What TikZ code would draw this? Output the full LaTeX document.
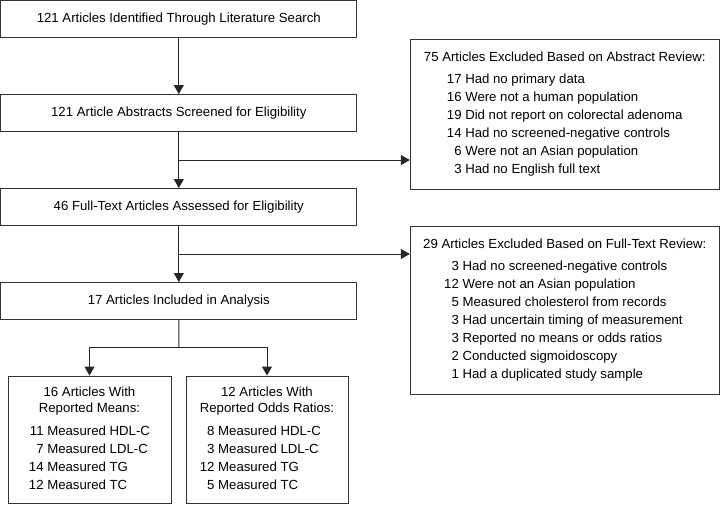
\documentclass[tikz,border=0pt]{standalone}
\usepackage{fontspec}
\setmainfont{Liberation Sans}
\usetikzlibrary{arrows.meta,positioning,calc}

\begin{document}
\begin{tikzpicture}[x=1pt,y=-1pt,
    font=\fontsize{13.2}{18}\selectfont,
    box/.style={draw=black!80, line width=0.9pt, minimum width=356pt, minimum height=37pt, inner sep=0pt},
    excl/.style={draw=black!80, line width=0.9pt, minimum width=309pt, inner sep=0pt},
    subbox/.style={draw=black!80, line width=0.9pt, minimum height=127pt, inner sep=0pt},
    ln/.style={line width=0.9pt, black!85},
    arr/.style={ln, -{Triangle[width=10pt,length=9pt]}}]
    \useasboundingbox (0,0) rectangle (720,504);

    % Main stream
    \node[box] (ident) at (178.8,18.8) {121 Articles Identified Through Literature Search};
    \node[box] (screen) at (178.8,113) {121 Article Abstracts Screened for Eligibility};
    \node[box] (full) at (178.8,207) {46 Full-Text Articles Assessed for Eligibility};
    \node[box] (incl) at (178.8,301) {17 Articles Included in Analysis};

    % Exclusions
    \node[excl, minimum height=150pt] (absexcl) at (564.8,114) {%
        \begin{tabular}{@{\hspace{23pt}}r@{ }l@{}}
            \multicolumn{2}{@{}l@{}}{75 Articles Excluded Based on Abstract Review:}\\[4pt]
            17 & Had no primary data\\
            16 & Were not a human population\\
            19 & Did not report on colorectal adenoma\\
            14 & Had no screened-negative controls\\
            6 & Were not an Asian population\\
            3 & Had no English full text
        \end{tabular}};
    \node[excl, minimum height=168pt] (fullexcl) at (564.8,310) {%
        \begin{tabular}{@{\hspace{21pt}}r@{ }l@{}}
            \multicolumn{2}{@{}l@{}}{29 Articles Excluded Based on Full-Text Review:}\\[4pt]
            3 & Had no screened-negative controls\\
            12 & Were not an Asian population\\
            5 & Measured cholesterol from records\\
            3 & Had uncertain timing of measurement\\
            3 & Reported no means or odds ratios\\
            2 & Conducted sigmoidoscopy\\
            1 & Had a duplicated study sample
        \end{tabular}};

    % Included articles
    \node[subbox, minimum width=163pt] (means) at (89.5,439.5) {%
        \begin{tabular}{@{}r@{ }l@{}}
            \multicolumn{2}{@{}c@{}}{16 Articles With}\\[-2pt]
            \multicolumn{2}{@{}c@{}}{Reported Means:}\\[5pt]
            11 & Measured HDL-C\\
            7 & Measured LDL-C\\
            14 & Measured TG\\
            12 & Measured TC
        \end{tabular}};
    \node[subbox, minimum width=162pt] (odds) at (267,439.5) {%
        \begin{tabular}{@{}r@{ }l@{}}
            \multicolumn{2}{@{}c@{}}{12 Articles With}\\[-2pt]
            \multicolumn{2}{@{}c@{}}{Reported Odds Ratios:}\\[5pt]
            8 & Measured HDL-C\\
            3 & Measured LDL-C\\
            12 & Measured TG\\
            5 & Measured TC
        \end{tabular}};

    % Connectors
    \coordinate (s1) at ($(screen.south)!0.5!(full.north)$);
    \coordinate (s2) at ($(full.south)!0.5!(incl.north)$);
    \coordinate (s3) at ($(incl.south)!0.5!(incl.south |- means.north)$);
    \draw[arr] (ident) -- (screen);
    \draw[arr] (screen) -- (full);
    \draw[arr] (s1) -- (s1 -| absexcl.west);
    \draw[arr] (full) -- (incl);
    \draw[arr] (s2) -- (s2 -| fullexcl.west);
    \draw[ln] (incl) -- (s3);
    \draw[arr] (s3) -| (means);
    \draw[arr] (s3) -| (odds);
\end{tikzpicture}
\end{document}
